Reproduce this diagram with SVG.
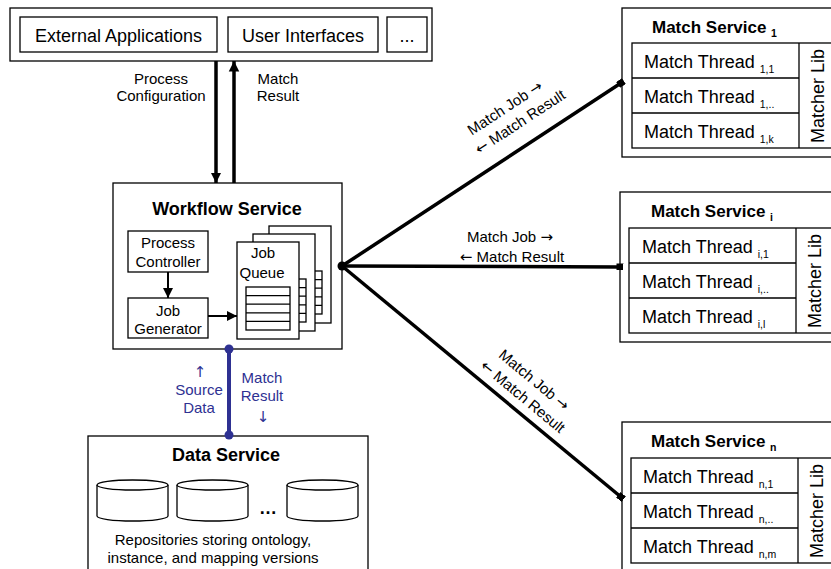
<svg xmlns="http://www.w3.org/2000/svg" width="831" height="569" viewBox="0 0 831 569">
<style>
text{font-family:"Liberation Sans",Arial,sans-serif;fill:#000}
.b{fill:#fff;stroke:#000;stroke-width:1.3}
.t18{font-size:18px}
.t15{font-size:15px}
.t14{font-size:15px}
.bold{font-weight:bold}
.c{text-anchor:middle}
.sub{font-size:10.5px}
.blue{fill:#2e3192}
.ar{font-family:"DejaVu Sans",sans-serif}
.ln{stroke:#000;stroke-width:1.3;fill:none}
.thick{stroke:#000;stroke-width:3.5;fill:none}
</style>
<defs>
<marker id="ah" viewBox="0 0 10 10" refX="10" refY="5" markerWidth="3" markerHeight="3.2" orient="auto" markerUnits="strokeWidth"><path d="M0,0 L10,5 L0,10 Z" fill="#000"/></marker>
<marker id="ah2" viewBox="0 0 10 10" refX="10" refY="5" markerWidth="5" markerHeight="5" orient="auto" markerUnits="strokeWidth"><path d="M0,0 L10,5 L0,10 Z" fill="#000"/></marker>
<marker id="sq" viewBox="0 0 10 10" refX="5" refY="5" markerWidth="2" markerHeight="2" orient="auto" markerUnits="strokeWidth"><rect x="0" y="0" width="10" height="10" fill="#000"/></marker>
<g id="page">
<rect x="0" y="0" width="62" height="97" class="b"/>
<rect x="9" y="45" width="44" height="43" class="b"/>
<path d="M9,53.6H53M9,62.2H53M9,70.8H53M9,79.4H53" class="ln"/>
</g>
<g id="cyl">
<path d="M0,6 V37 A35.5,5 0 0 0 71,37 V6" class="b"/>
<ellipse cx="35.5" cy="6" rx="35.5" ry="5" class="b"/>
</g>
</defs>

<g id="clients">
<rect x="10" y="8" width="422" height="53" class="b"/>
<rect x="20" y="17" width="197" height="35" class="b"/>
<text x="118.5" y="42" class="t18 c">External Applications</text>
<rect x="228" y="17" width="150" height="35" class="b"/>
<text x="303" y="42" class="t18 c">User Interfaces</text>
<rect x="387" y="17" width="40" height="35" class="b"/>
<text x="407" y="42" class="t18 c">...</text>
</g>

<g id="workflow">
<rect x="113" y="183" width="229" height="166" class="b"/>
<text x="227" y="215" class="t18 bold c">Workflow Service</text>
<rect x="128" y="231" width="80" height="41" class="b"/>
<text x="168" y="248" class="t15 c">Process</text>
<text x="168" y="267" class="t15 c">Controller</text>
<rect x="128" y="298" width="80" height="40" class="b"/>
<text x="168" y="316" class="t15 c">Job</text>
<text x="168" y="334" class="t15 c">Generator</text>
<use href="#page" x="269" y="226"/>
<use href="#page" x="253" y="234"/>
<use href="#page" x="237" y="242"/>
<text x="263" y="258" class="t15 c">Job</text>
<text x="262" y="278" class="t15 c">Queue</text>
<line x1="168" y1="272" x2="168" y2="298" stroke="#000" stroke-width="2" marker-end="url(#ah2)"/>
<line x1="208" y1="316" x2="237" y2="316" stroke="#000" stroke-width="2" marker-end="url(#ah2)"/>
</g>

<g id="data">
<rect x="88" y="436" width="280" height="140" class="b"/>
<text x="226" y="461" class="t18 bold c">Data Service</text>
<use href="#cyl" x="97" y="479"/>
<use href="#cyl" x="177" y="479"/>
<use href="#cyl" x="287" y="479"/>
<text x="268" y="514" class="t18 bold c">…</text>
<text x="213" y="545" class="t15 c">Repositories storing ontology,</text>
<text x="213" y="563" class="t15 c">instance, and mapping versions</text>
</g>

<g id="ms1">
<rect x="622" y="8" width="230" height="149" class="b"/>
<text x="652" y="33" class="t18 bold" style="font-size:17px">Match Service <tspan class="sub" dy="4">1</tspan></text>
<rect x="632" y="43" width="220" height="105" class="b"/>
<path d="M632,78H799M632,113H799M799,43V148" class="ln"/>
<text x="644" y="68" class="t18">Match Thread <tspan class="sub" dy="5">1,1</tspan></text>
<text x="644" y="103" class="t18">Match Thread <tspan class="sub" dy="5">1,..</tspan></text>
<text x="644" y="138" class="t18">Match Thread <tspan class="sub" dy="5">1,k</tspan></text>
<text transform="translate(824,96) rotate(-90)" class="t18 c">Matcher Lib</text>
</g>

<g id="msi">
<rect x="620" y="192" width="230" height="150" class="b"/>
<text x="651" y="217" class="t18 bold" style="font-size:17px">Match Service <tspan class="sub" dy="4">i</tspan></text>
<rect x="629" y="228" width="220" height="105" class="b"/>
<path d="M629,263H796M629,298H796M796,228V333" class="ln"/>
<text x="642" y="253" class="t18">Match Thread <tspan class="sub" dy="5">i,1</tspan></text>
<text x="642" y="288" class="t18">Match Thread <tspan class="sub" dy="5">i,..</tspan></text>
<text x="642" y="323" class="t18">Match Thread <tspan class="sub" dy="5">i,l</tspan></text>
<text transform="translate(821,281) rotate(-90)" class="t18 c">Matcher Lib</text>
</g>

<g id="msn">
<rect x="622" y="422" width="230" height="160" class="b"/>
<text x="651" y="447" class="t18 bold" style="font-size:17px">Match Service <tspan class="sub" dy="4">n</tspan></text>
<rect x="631" y="458" width="220" height="105" class="b"/>
<path d="M631,493H798M631,528H798M798,458V563" class="ln"/>
<text x="643" y="483" class="t18">Match Thread <tspan class="sub" dy="5">n,1</tspan></text>
<text x="643" y="518" class="t18">Match Thread <tspan class="sub" dy="5">n,..</tspan></text>
<text x="643" y="553" class="t18">Match Thread <tspan class="sub" dy="5">n,m</tspan></text>
<text transform="translate(823,511) rotate(-90)" class="t18 c">Matcher Lib</text>
</g>

<g id="connectors">
<line x1="216" y1="61" x2="216" y2="183" class="thick" marker-end="url(#ah)"/>
<line x1="234" y1="183" x2="234" y2="61" class="thick" marker-end="url(#ah)"/>
<text x="161" y="84" class="t14 c">Process</text>
<text x="161" y="101" class="t14 c">Configuration</text>
<text x="278" y="84" class="t14 c">Match</text>
<text x="278" y="101" class="t14 c">Result</text>

<line x1="342" y1="266" x2="621" y2="83" class="thick" marker-end="url(#sq)"/>
<line x1="342" y1="266" x2="620" y2="267" class="thick" marker-end="url(#sq)"/>
<line x1="342" y1="266" x2="621" y2="497" class="thick" marker-end="url(#sq)"/>
<circle cx="342" cy="266" r="4.5" fill="#000"/>

<g transform="translate(505,108) rotate(-33.3)">
<text x="0" y="5" class="t14 c">Match Job <tspan class="ar">→</tspan></text>
<text x="5" y="25" class="t14 c"><tspan class="ar">←</tspan> Match Result</text>
</g>
<text x="510" y="242" class="t14 c">Match Job <tspan class="ar">→</tspan></text>
<text x="512" y="262" class="t14 c"><tspan class="ar">←</tspan> Match Result</text>
<g transform="translate(534,380) rotate(39.6)">
<text x="0" y="5" class="t14 c">Match Job <tspan class="ar">→</tspan></text>
<text x="2" y="25" class="t14 c"><tspan class="ar">←</tspan> Match Result</text>
</g>

<line x1="229" y1="349" x2="229" y2="435" stroke="#2e3192" stroke-width="4"/>
<circle cx="229" cy="349" r="4.5" fill="#2e3192"/>
<circle cx="229" cy="435" r="4.5" fill="#2e3192"/>
<text x="200" y="377" class="t15 c blue ar">↑</text>
<text x="199" y="395" class="t15 c blue">Source</text>
<text x="199" y="413" class="t15 c blue">Data</text>
<text x="262" y="383" class="t15 c blue">Match</text>
<text x="262" y="401" class="t15 c blue">Result</text>
<text x="263" y="422" class="t15 c blue ar">↓</text>
</g>
</svg>
